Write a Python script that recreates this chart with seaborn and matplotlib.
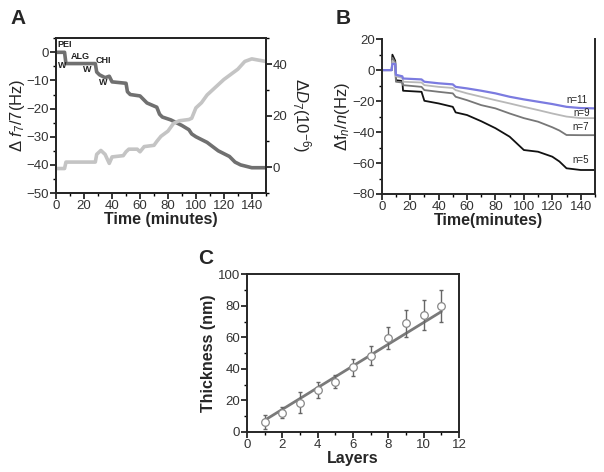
import matplotlib
matplotlib.use("Agg")
import matplotlib.pyplot as plt
from matplotlib.ticker import AutoMinorLocator
import numpy as np
import pandas as pd
import seaborn as sns

# ---- Panel A: frequency / dissipation vs time ----
tA_freq = [0, 6, 7, 28, 29, 31, 35, 38, 40, 50, 51, 53, 60, 63, 65, 72, 74, 76, 82, 86,
           90, 95, 97, 100, 104, 108, 112, 116, 120, 124, 128, 132, 136, 140, 150]
dfreq7 = [0, 0, -4, -4, -7, -8, -9, -8.5, -10.5, -11, -14, -15, -15.5, -17, -18, -19.5, -22, -23, -24, -25,
          -26, -27.5, -29, -30, -31, -32, -33.5, -35, -36, -37, -39, -40, -40.5, -41, -41]
tA_diss = [0, 6, 7, 28, 29, 32, 35, 38, 40, 48, 50, 52, 58, 60, 63, 70, 72, 75, 80, 84,
           88, 95, 97, 100, 104, 108, 112, 116, 120, 125, 130, 135, 140, 150]
ddiss7 = [-0.5, -0.5, 2, 2, 5, 6.5, 5, 1.5, 4, 4.5, 6, 7, 7, 6, 8, 8.5, 10, 12, 14, 17,
          18, 18.5, 19, 23, 25, 28, 30, 32, 34, 36, 38, 41, 42, 41]

# ---- Panel B: overtones ----
tB = [0, 7, 7.5, 9.5, 10, 14.5, 15, 28, 30, 40, 50, 52, 60, 70, 80, 90, 100, 110, 120, 125, 130, 140, 150]
n5 = [0, 0, 10, 6, -6.5, -7, -13.3, -14, -19.8, -21.5, -23.7, -27.3, -29, -33, -37.5, -43, -51.6, -52.7,
      -55.9, -59, -63.4, -64.5, -64.5]
n7 = [0, 0, 8, 5, -7.5, -8, -9.7, -10.8, -12.9, -14, -15, -17.2, -19.4, -22.6, -24.7, -28, -31, -33.3,
      -36.9, -39, -41.9, -42, -42]
n9 = [0, 0, 6, 4, -4, -5, -7.5, -8, -9.7, -10.8, -11.5, -12.9, -15, -17.2, -19.4, -21.5, -23.7, -25.8,
      -28, -29, -30, -31, -31]
n11 = [0, 0, 4, 4, -3, -4, -5.4, -6, -7.5, -8.5, -9.2, -10.8, -11.8, -13.3, -15, -17.2, -18.9, -20.4,
       -21.9, -22.8, -23.7, -24.5, -24.7]
overtone_labels = ["n=5", "n=7", "n=9", "n=11"]
overtone_colors = ["#111111", "#777777", "#b8b8b8", "#7b7be0"]

# ---- Panel C: thickness vs layers ----
layers = [1, 2, 3, 4, 5, 6, 7, 8, 9, 10, 11]
thickness = [6.4, 12, 18.6, 26.5, 31.8, 40.9, 48.3, 59.7, 68.9, 74.2, 79.9]
thick_err = [4.5, 3.5, 6.5, 5, 4, 5.5, 6, 7, 8.5, 9.5, 10]
fit_x = [1, 11]
fit_y = [7.4, 76.3]

sns.set_style("ticks")
plt.rcParams['font.family'] = ['Liberation Sans', 'DejaVu Sans']
plt.rcParams['axes.linewidth'] = 1.4
plt.rcParams['xtick.color'] = 'black'
plt.rcParams['ytick.color'] = 'black'
plt.rcParams['xtick.labelcolor'] = '#333333'
plt.rcParams['ytick.labelcolor'] = '#333333'
plt.rcParams['mathtext.fontset'] = 'custom'
plt.rcParams['mathtext.rm'] = 'Liberation Sans'
plt.rcParams['mathtext.it'] = 'Liberation Sans:italic'
plt.rcParams['mathtext.bf'] = 'Liberation Sans:bold'

fig = plt.figure(figsize=(6.04, 4.72), dpi=100)
tick_fs = 9.5
lab_fs = 11


def style_ax(ax):
    ax.tick_params(axis='both', labelsize=tick_fs, direction='out', length=4, width=1.1, pad=1)
    ax.tick_params(which='minor', length=2.5, width=1.0)
    ax.xaxis.set_minor_locator(AutoMinorLocator(2))
    ax.yaxis.set_minor_locator(AutoMinorLocator(2))


# Panel A
axA = fig.add_axes([0.093, 0.591, 0.347, 0.328])
sns.lineplot(x=tA_freq, y=dfreq7, ax=axA, color="#707070", linewidth=2.6, sort=False, estimator=None)
axA.set_xlim(0, 150)
axA.set_ylim(-50, 5)
axA.set_yticks([0, -10, -20, -30, -40, -50])
axA.set_xticks(range(0, 141, 20))
axA.set_xlabel("Time (minutes)", fontsize=lab_fs + 0.5, fontweight='bold', labelpad=0)
axA.set_ylabel(r"$\Delta\ \mathit{f}_{\mathit{7}}/\mathit{7}$(Hz)", fontsize=lab_fs + 1, labelpad=0)
style_ax(axA)
for txt, (x, y) in zip(["PEI", "W", "ALG", "W", "CHI", "W"],
                       [(1.0, 2.6), (1.5, -4.8), (10.5, -1.5), (19.5, -6.2), (28.5, -3.0), (30.5, -10.8)]):
    axA.text(x, y, txt, fontsize=6.5, fontweight='bold', color='#222222', va='center')

axA2 = axA.twinx()
sns.lineplot(x=tA_diss, y=ddiss7, ax=axA2, color="#c4c4c4", linewidth=2.6, sort=False, estimator=None)
axA2.set_ylim(-10, 50)
axA2.set_yticks([0, 20, 40])
axA2.set_ylabel(r"$\Delta D_7$(10$^{-6}$)", fontsize=lab_fs + 1, rotation=270, labelpad=18)
axA2.tick_params(axis='y', labelsize=tick_fs, direction='out', length=4, width=1.1, pad=1)
axA2.yaxis.set_minor_locator(AutoMinorLocator(2))
axA2.tick_params(which='minor', length=2.5, width=1.0)

# Panel B
axB = fig.add_axes([0.632, 0.589, 0.353, 0.328])
for vals, lab, col in zip([n5, n7, n9, n11], overtone_labels, overtone_colors):
    sns.lineplot(x=tB, y=vals, ax=axB, color=col, linewidth=1.3 if lab != "n=11" else 1.6,
                 sort=False, estimator=None)
axB.set_xlim(0, 150)
axB.set_ylim(-80, 20)
axB.set_yticks([20, 0, -20, -40, -60, -80])
axB.set_xticks(range(0, 141, 20))
axB.set_xlabel("Time(minutes)", fontsize=lab_fs + 0.5, fontweight='bold', labelpad=0)
axB.set_ylabel(r"$\Delta$f$_{\mathit{n}}$/$\mathit{n}$(Hz)", fontsize=lab_fs + 1, labelpad=0)
style_ax(axB)
axB.spines['top'].set_visible(False)
for lab, (x, y) in zip(overtone_labels, [(134, -58), (134, -36.5), (135, -27.5), (130, -19.5)]):
    axB.text(x, y, lab, fontsize=7, color='#222222', va='center')

# Panel C
axC = fig.add_axes([0.409, 0.085, 0.351, 0.334])
sns.lineplot(x=fit_x, y=fit_y, ax=axC, color="#7a7a7a", linewidth=2.0, estimator=None)
axC.errorbar(layers, thickness, yerr=thick_err, fmt='none', ecolor='#666666',
             elinewidth=1.0, capsize=1.5, capthick=1.0)
sns.scatterplot(x=layers, y=thickness, ax=axC, marker='o', s=30, facecolor='white',
                edgecolor='#888888', linewidth=0.9, zorder=5)
axC.set_xlim(0, 12)
axC.set_ylim(0, 100)
axC.set_xticks(range(0, 13, 2))
axC.set_yticks(range(0, 101, 20))
axC.set_xlabel("Layers", fontsize=lab_fs + 0.5, fontweight='bold', labelpad=0)
axC.set_ylabel("Thickness (nm)", fontsize=lab_fs + 0.5, fontweight='bold', labelpad=1)
style_ax(axC)

fig.text(0.017, 0.95, "A", fontsize=15, fontweight='bold')
fig.text(0.555, 0.95, "B", fontsize=15, fontweight='bold')
fig.text(0.328, 0.44, "C", fontsize=15, fontweight='bold')

fig.savefig("out.png", dpi=100)
